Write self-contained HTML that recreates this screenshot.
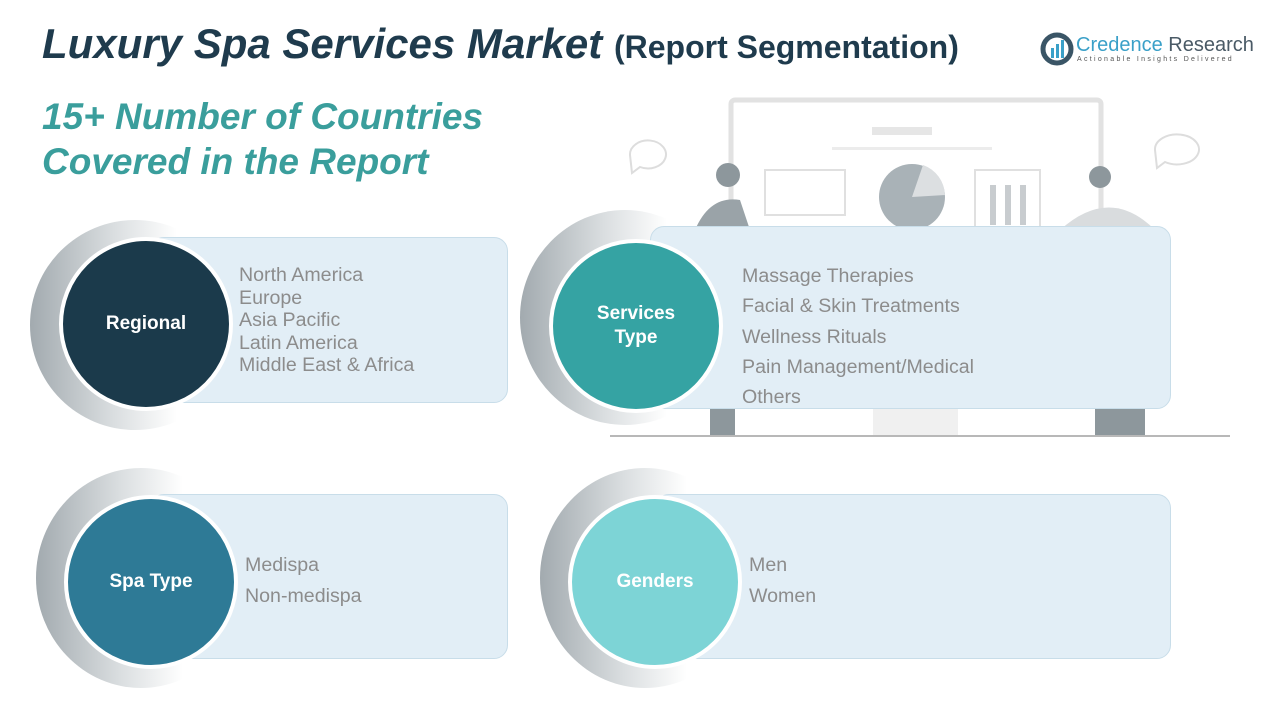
<!DOCTYPE html>
<html><head><meta charset="utf-8"><style>
body{margin:0;width:1280px;height:720px;background:#fff;position:relative;overflow:hidden;font-family:"Liberation Sans",sans-serif}
.a{position:absolute}
.box{position:absolute;background:#e2eef6;border:1.5px solid #c8dde9;border-radius:14px}
.cres{position:absolute;border-radius:50%;background:linear-gradient(90deg,#a2aaaf 0%,#dadee0 40%,#fff 70%)}
.circ{position:absolute;border-radius:50%;border:4px solid #fff;color:#fff;font-weight:bold;font-size:19px;display:flex;align-items:center;justify-content:center;text-align:center;line-height:24px}
.txt{position:absolute;color:#8c8c8c;font-size:19.6px}
</style></head><body>
<div class="a" style="left:42px;top:20px;font-size:42px;font-weight:bold;font-style:italic;color:#1f3b4d;white-space:nowrap">Luxury Spa Services Market <span style="font-style:normal;font-size:32px">(Report Segmentation)</span></div>
<div class="a" style="left:42px;top:94px;font-size:37px;font-weight:bold;font-style:italic;color:#3a9e9c;line-height:45px">15+ Number of Countries<br>Covered in the Report</div>
<svg class="a" style="left:1040px;top:32px" width="34" height="34"><circle cx="17" cy="17" r="14" fill="none" stroke="#3a5566" stroke-width="5"/><rect x="11" y="16" width="3" height="10" fill="#3aa0c8"/><rect x="16" y="12" width="3" height="14" fill="#3aa0c8"/><rect x="21" y="8" width="3" height="18" fill="#3aa0c8"/></svg>
<div class="a" style="left:1076px;top:34px;font-size:20px;color:#3aa0c8;white-space:nowrap">Credence <span style="color:#4a5a66">Research</span></div>
<div class="a" style="left:1077px;top:56px;font-size:7px;letter-spacing:2.3px;color:#555;white-space:nowrap">Actionable Insights Delivered</div>
<svg class="a" style="left:600px;top:95px" width="640" height="350">
<rect x="131" y="5" width="370" height="300" fill="none" stroke="#e2e2e2" stroke-width="5" rx="4"/>
<rect x="272" y="32" width="60" height="8" fill="#e6e6e6"/><rect x="232" y="52" width="160" height="3" fill="#ececec"/>
<rect x="165" y="75" width="80" height="45" fill="none" stroke="#e0e0e0" stroke-width="2"/>
<rect x="375" y="75" width="65" height="60" fill="none" stroke="#e0e0e0" stroke-width="2"/>
<circle cx="312" cy="102" r="33" fill="#a9b2b7"/><path d="M312 102 L323 70 A33 33 0 0 1 345 100 Z" fill="#dcdfe1"/>
<rect x="390" y="90" width="6" height="40" fill="#c8cccf"/><rect x="405" y="90" width="6" height="40" fill="#c8cccf"/><rect x="420" y="90" width="6" height="40" fill="#c8cccf"/>
<circle cx="128" cy="80" r="12" fill="#8d979c"/><path d="M95 135 Q110 100 140 105 L150 135 Z" fill="#9aa3a8"/>
<circle cx="500" cy="82" r="11" fill="#8d979c"/><path d="M460 135 Q510 90 555 135 Z" fill="#d9dcde"/>
<path d="M30 60 a18 14 0 1 1 10 12 l-8 6z" fill="none" stroke="#ddd" stroke-width="2"/>
<path d="M555 55 a22 15 0 1 1 10 12 l-8 6z" fill="none" stroke="#ddd" stroke-width="2"/>
<rect x="10" y="340" width="620" height="2" fill="#b8b8b8"/>
<rect x="110" y="310" width="25" height="30" fill="#8d979c"/><rect x="495" y="310" width="50" height="30" fill="#8d979c"/>
<rect x="273" y="310" width="85" height="30" fill="#f0f0f0"/>
</svg>
<div class="cres" style="left:30px;top:220px;width:210px;height:210px"></div>
<div class="box" style="left:150px;top:237px;width:356px;height:164px"></div>
<div class="circ" style="left:59px;top:237px;width:166px;height:166px;background:#1b3a4b">Regional</div>
<div class="txt" style="left:239px;top:264px;line-height:22.5px">North America<br>Europe<br>Asia Pacific<br>Latin America<br>Middle East &amp; Africa</div>
<div class="cres" style="left:520px;top:210px;width:210px;height:215px"></div>
<div class="box" style="left:650px;top:226px;width:519px;height:181px"></div>
<div class="circ" style="left:549px;top:239px;width:166px;height:166px;background:#35a3a3">Services<br>Type</div>
<div class="txt" style="left:742px;top:261px;line-height:30.3px">Massage Therapies<br>Facial &amp; Skin Treatments<br>Wellness Rituals<br>Pain Management/Medical<br>Others</div>
<div class="cres" style="left:36px;top:468px;width:210px;height:220px"></div>
<div class="box" style="left:150px;top:494px;width:356px;height:163px"></div>
<div class="circ" style="left:64px;top:495px;width:166px;height:166px;background:#2e7a96">Spa Type</div>
<div class="txt" style="left:245px;top:550px;line-height:31px">Medispa<br>Non-medispa</div>
<div class="cres" style="left:540px;top:468px;width:210px;height:220px"></div>
<div class="box" style="left:655px;top:494px;width:514px;height:163px"></div>
<div class="circ" style="left:568px;top:495px;width:166px;height:166px;background:#7dd4d6">Genders</div>
<div class="txt" style="left:749px;top:550px;line-height:31px">Men<br>Women</div>
</body></html>
